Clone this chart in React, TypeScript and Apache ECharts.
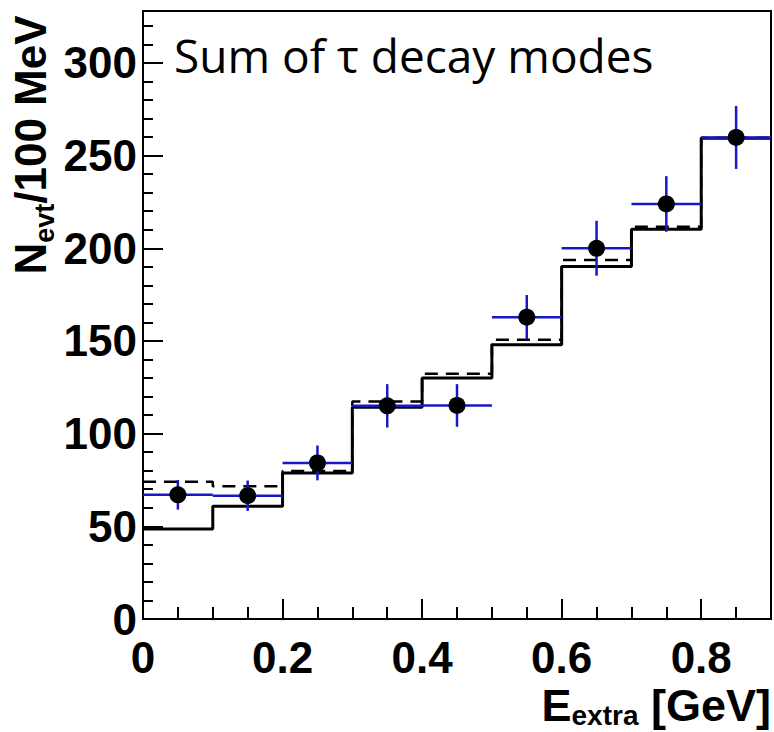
import React, { useEffect, useRef } from "react";
import * as echarts from "echarts";

// Bin edges in E_extra [GeV]
const binEdges = [0, 0.1, 0.2, 0.3, 0.4, 0.5, 0.6, 0.7, 0.8, 0.9];
// Solid histogram (per bin)
const mcSolid = [48.6, 60.8, 78.8, 114.3, 130, 147.9, 190.1, 210.2, 259.3];
// Dashed histogram (per bin)
const mcDashed = [74.1, 71.6, 79.8, 117.4, 132.3, 150.6, 193.7, 211.6, 259.6];
// Data points
const dataCenters = [0.05, 0.15, 0.25, 0.35, 0.45, 0.55, 0.65, 0.75, 0.85];
const dataValues = [67, 66.5, 84.2, 115, 115.2, 162.8, 200, 223.9, 259.8];
const dataErrors = [8, 8.2, 9.4, 11.7, 11.5, 12, 14.8, 15, 17];
const binHalfWidth = 0.05;

const yTickLabels = ["0", "50", "100", "150", "200", "250", "300"];
const xTickLabels = ["0", "0.2", "0.4", "0.6", "0.8"];

const LABEL_FONT = '"Liberation Sans", Arial, sans-serif';

function stepData(vals: number[]) {
  const out: number[][] = [];
  for (let i = 0; i < vals.length; i++) out.push([binEdges[i], vals[i]]);
  out.push([binEdges[binEdges.length - 1], vals[vals.length - 1]]);
  return out;
}

export default function App() {
  const ref = useRef<HTMLDivElement>(null);
  useEffect(() => {
    if (!ref.current) return;
    const chart = echarts.init(ref.current, undefined, { renderer: "svg" });
    const yMax = 328;
    const xMax = 0.9;
    const labelStyle = {
      fontFamily: LABEL_FONT,
      fontWeight: "bold" as const,
      fontSize: 44,
      color: "#000",
    };
    const option: any = {
      animation: false,
      backgroundColor: "#fff",
      grid: {
        left: 143,
        top: 11,
        width: 629,
        height: 608,
        show: true,
        borderColor: "#000",
        borderWidth: 2,
        backgroundColor: "transparent",
      },
      xAxis: [
        {
          type: "value",
          min: 0,
          max: xMax,
          interval: 0.05,
          position: "bottom",
          axisLine: { show: true, lineStyle: { color: "#000", width: 2 } },
          axisTick: { show: true, inside: true, length: 12, lineStyle: { color: "#000", width: 2 } },
          axisLabel: { show: false },
          splitLine: { show: false },
        },
        {
          type: "value",
          min: 0,
          max: xMax,
          interval: 0.2,
          position: "bottom",
          axisLine: { show: true, lineStyle: { color: "#000", width: 2 } },
          axisTick: { show: true, inside: true, length: 20, lineStyle: { color: "#000", width: 2 } },
          axisLabel: {
            ...labelStyle,
            margin: 16,
            formatter: (v: number) => {
              const idx = Math.round(v / 0.2);
              if (Math.abs(v - idx * 0.2) > 1e-6) return "";
              return xTickLabels[idx] ?? "";
            },
          },
          splitLine: { show: false },
        },
      ],
      yAxis: [
        {
          type: "value",
          min: 0,
          max: yMax,
          interval: 10,
          position: "left",
          axisLine: { show: true, lineStyle: { color: "#000", width: 2 } },
          axisTick: { show: true, inside: true, length: 10, lineStyle: { color: "#000", width: 2 } },
          axisLabel: { show: false },
          splitLine: { show: false },
        },
        {
          type: "value",
          min: 0,
          max: yMax,
          interval: 50,
          position: "left",
          axisLine: { show: true, lineStyle: { color: "#000", width: 2 } },
          axisTick: { show: true, inside: true, length: 20, lineStyle: { color: "#000", width: 2 } },
          axisLabel: {
            ...labelStyle,
            margin: 6,
            formatter: (v: number) => {
              const idx = Math.round(v / 50);
              if (Math.abs(v - idx * 50) > 1e-6) return "";
              return yTickLabels[idx] ?? "";
            },
          },
          splitLine: { show: false },
        },
      ],
      graphic: [
        {
          type: "text",
          x: 174,
          y: 55,
          style: {
            text: "Sum of τ decay modes",
            font: '46px "Open Sans", "Noto Sans", sans-serif',
            fill: "#000",
            align: "left",
            verticalAlign: "middle",
          },
          z: 100,
        },
        {
          type: "text",
          x: 30,
          y: 145,
          rotation: Math.PI / 2,
          style: {
            text: "{n|N}{s|evt}{n|/100 MeV}",
            align: "center",
            verticalAlign: "middle",
            fill: "#000",
            rich: {
              n: { fontFamily: LABEL_FONT, fontWeight: "bold", fontSize: 44, lineHeight: 56, fill: "#000" },
              s: { fontFamily: LABEL_FONT, fontWeight: "bold", fontSize: 27, lineHeight: 36, verticalAlign: "bottom", fill: "#000" },
            },
          },
          z: 100,
        },
        {
          type: "text",
          x: 771,
          y: 705,
          style: {
            text: "{n|E}{s|extra}{n| [GeV]}",
            align: "right",
            verticalAlign: "middle",
            fill: "#000",
            rich: {
              n: { fontFamily: LABEL_FONT, fontWeight: "bold", fontSize: 45, lineHeight: 48, fill: "#000" },
              s: { fontFamily: LABEL_FONT, fontWeight: "bold", fontSize: 28, lineHeight: 32, verticalAlign: "bottom", fill: "#000" },
            },
          },
          z: 100,
        },
      ],
      series: [
        {
          type: "line",
          name: "solid",
          xAxisIndex: 0,
          yAxisIndex: 0,
          step: "end",
          showSymbol: false,
          symbol: "none",
          data: stepData(mcSolid),
          lineStyle: { color: "#000", width: 3 },
          z: 3,
        },
        {
          type: "line",
          name: "dashed",
          xAxisIndex: 0,
          yAxisIndex: 0,
          step: "end",
          showSymbol: false,
          symbol: "none",
          data: stepData(mcDashed),
          lineStyle: { color: "#000", width: 2.5, type: [13, 8] },
          z: 2,
        },
        {
          type: "custom",
          name: "errors",
          xAxisIndex: 0,
          yAxisIndex: 0,
          data: dataCenters.map((c, i) => [c, dataValues[i], dataErrors[i]]),
          renderItem: (params: any, api: any) => {
            const x = api.value(0);
            const y = api.value(1);
            const e = api.value(2);
            const l = api.coord([x - binHalfWidth, y]);
            const r = api.coord([x + binHalfWidth, y]);
            const t = api.coord([x, y + e]);
            const b = api.coord([x, y - e]);
            const st = { stroke: "#1818c8", lineWidth: 2.5 };
            return {
              type: "group",
              children: [
                { type: "line", shape: { x1: l[0], y1: l[1], x2: r[0], y2: r[1] }, style: st },
                { type: "line", shape: { x1: t[0], y1: t[1], x2: b[0], y2: b[1] }, style: st },
              ],
            };
          },
          z: 4,
        },
        {
          type: "scatter",
          name: "data",
          xAxisIndex: 0,
          yAxisIndex: 0,
          symbol: "circle",
          symbolSize: 17,
          itemStyle: { color: "#000", opacity: 1 },
          data: dataCenters.map((c, i) => [c, dataValues[i]]),
          z: 5,
        },
      ],
    };
    chart.setOption(option);
    return () => chart.dispose();
  }, []);
  return (
    <div
      ref={ref}
      style={{ position: "fixed", left: 0, top: 0, width: 774, height: 732 }}
    />
  );
}
